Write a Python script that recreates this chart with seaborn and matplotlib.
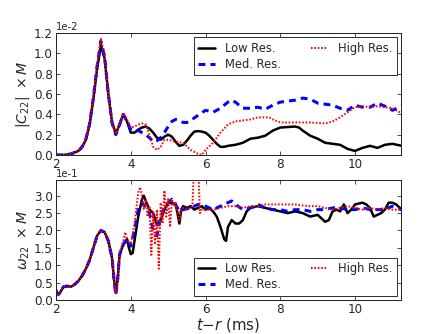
import numpy as np
import pandas as pd
import matplotlib
matplotlib.use("Agg")
import matplotlib.pyplot as plt
import seaborn as sns

# ---- top panel: |C22| x M  (values in units of 1e-2) ----
t_c_low = [2.0, 2.2, 2.4, 2.6, 2.7, 2.8, 2.9, 3.0, 3.1, 3.2, 3.3, 3.4, 3.5, 3.6, 3.7, 3.8,
           3.9, 4.0, 4.1, 4.2, 4.3, 4.4, 4.5, 4.6, 4.7, 4.8, 4.9, 5.0, 5.1, 5.2, 5.3, 5.4,
           5.5, 5.6, 5.7, 5.8, 5.9, 6.0, 6.1, 6.2, 6.3, 6.4, 6.5, 6.6, 6.8, 7.0, 7.2, 7.4,
           7.6, 7.8, 8.0, 8.2, 8.4, 8.5, 8.6, 8.8, 9.0, 9.2, 9.4, 9.6, 9.8, 10.0, 10.2,
           10.4, 10.6, 10.8, 11.0, 11.25]
c_low = [0.0, 0.0, 0.01, 0.04, 0.08, 0.15, 0.3, 0.55, 0.85, 1.08, 0.95, 0.6, 0.32, 0.21, 0.3,
         0.4, 0.33, 0.22, 0.22, 0.25, 0.27, 0.28, 0.26, 0.22, 0.17, 0.15, 0.18, 0.2, 0.18,
         0.13, 0.09, 0.1, 0.14, 0.19, 0.23, 0.235, 0.23, 0.22, 0.19, 0.15, 0.11, 0.08, 0.08,
         0.09, 0.1, 0.12, 0.16, 0.17, 0.19, 0.24, 0.27, 0.275, 0.28, 0.27, 0.24, 0.19, 0.16,
         0.12, 0.11, 0.1, 0.06, 0.04, 0.07, 0.09, 0.07, 0.1, 0.11, 0.09]

t_c_med = [2.0, 2.2, 2.4, 2.6, 2.7, 2.8, 2.9, 3.0, 3.1, 3.2, 3.3, 3.4, 3.5, 3.6, 3.7, 3.8,
           3.9, 4.0, 4.1, 4.2, 4.3, 4.4, 4.5, 4.6, 4.7, 4.8, 4.9, 5.0, 5.1, 5.2, 5.3, 5.4,
           5.5, 5.6, 5.8, 6.0, 6.2, 6.4, 6.6, 6.7, 6.8, 7.0, 7.2, 7.4, 7.6, 7.8, 8.0, 8.2,
           8.4, 8.6, 8.8, 9.0, 9.2, 9.4, 9.6, 9.8, 10.0, 10.2, 10.4, 10.6, 10.8, 11.0, 11.25]
c_med = [0.0, 0.0, 0.01, 0.04, 0.08, 0.16, 0.31, 0.57, 0.88, 1.12, 0.97, 0.6, 0.31, 0.2,
         0.3, 0.4, 0.33, 0.25, 0.23, 0.24, 0.22, 0.2, 0.17, 0.13, 0.14, 0.17, 0.22, 0.28,
         0.33, 0.35, 0.34, 0.32, 0.32, 0.34, 0.39, 0.44, 0.42, 0.46, 0.52, 0.54, 0.52, 0.46,
         0.46, 0.47, 0.45, 0.49, 0.52, 0.53, 0.54, 0.56, 0.55, 0.51, 0.5, 0.49, 0.46, 0.44,
         0.49, 0.47, 0.47, 0.51, 0.48, 0.44, 0.48]

t_c_high = [2.0, 2.2, 2.4, 2.6, 2.7, 2.8, 2.9, 3.0, 3.1, 3.2, 3.3, 3.4, 3.5, 3.6, 3.7, 3.8,
            3.9, 4.0, 4.1, 4.2, 4.3, 4.4, 4.5, 4.6, 4.7, 4.8, 4.9, 5.0, 5.2, 5.4, 5.6, 5.8,
            5.9, 6.0, 6.2, 6.4, 6.6, 6.8, 7.0, 7.2, 7.4, 7.6, 7.7, 7.8, 8.0, 8.4, 8.8, 9.2,
            9.4, 9.6, 9.8, 10.0, 10.2, 10.4, 10.6, 10.8, 11.0, 11.25]
c_high = [0.0, 0.0, 0.01, 0.04, 0.08, 0.16, 0.32, 0.58, 0.9, 1.15, 0.98, 0.6, 0.31, 0.21,
          0.31, 0.41, 0.35, 0.27, 0.28, 0.3, 0.31, 0.3, 0.2, 0.08, 0.05, 0.08, 0.15, 0.15,
          0.13, 0.12, 0.05, 0.01, 0.0, 0.05, 0.12, 0.22, 0.3, 0.33, 0.34, 0.35, 0.37, 0.37,
          0.37, 0.35, 0.32, 0.32, 0.32, 0.31, 0.33, 0.37, 0.42, 0.47, 0.48, 0.47, 0.48, 0.47,
          0.46, 0.41]

# ---- bottom panel: omega22 x M  (values in units of 1e-1) ----
t_w_low = [2.0, 2.05, 2.1, 2.2, 2.3, 2.4, 2.5, 2.6, 2.7, 2.8, 2.9, 3.0, 3.1, 3.2, 3.3, 3.4,
           3.5, 3.55, 3.6, 3.65, 3.7, 3.8, 3.9, 3.95, 4.0, 4.05, 4.1, 4.2, 4.3, 4.35, 4.4,
           4.5, 4.6, 4.7, 4.8, 4.9, 5.0, 5.1, 5.2, 5.25, 5.3, 5.35, 5.4, 5.5, 5.6, 5.7, 5.8,
           5.9, 6.0, 6.1, 6.2, 6.3, 6.4, 6.5, 6.55, 6.6, 6.7, 6.8, 6.9, 7.0, 7.1, 7.2, 7.4,
           7.6, 7.8, 8.0, 8.2, 8.4, 8.6, 8.8, 9.0, 9.2, 9.3, 9.4, 9.5, 9.6, 9.7, 9.8, 9.9,
           10.0, 10.2, 10.3, 10.4, 10.5, 10.6, 10.7, 10.8, 10.9, 11.0, 11.1, 11.25]
w_low = [0.3, 0.15, 0.2, 0.38, 0.4, 0.38, 0.45, 0.55, 0.7, 0.9, 1.15, 1.5, 1.85, 2.0, 1.95,
         1.7, 1.2, 0.6, 0.2, 0.6, 1.3, 1.6, 1.75, 1.5, 1.32, 1.35, 1.7, 2.4, 2.9, 3.0, 2.85,
         2.6, 2.5, 2.15, 2.3, 2.6, 2.8, 2.8, 2.75, 2.5, 2.2, 2.6, 2.7, 2.65, 2.7, 2.6, 2.65,
         2.7, 2.6, 2.65, 2.55, 2.4, 2.1, 1.75, 1.7, 2.1, 2.3, 2.2, 2.2, 2.3, 2.55, 2.65, 2.7,
         2.65, 2.6, 2.55, 2.5, 2.55, 2.5, 2.4, 2.45, 2.25, 2.3, 2.55, 2.6, 2.55, 2.75, 2.5,
         2.6, 2.75, 2.8, 2.75, 2.65, 2.4, 2.45, 2.5, 2.6, 2.8, 2.8, 2.75, 2.6]

t_w_med = [2.0, 2.05, 2.1, 2.2, 2.3, 2.4, 2.5, 2.6, 2.7, 2.8, 2.9, 3.0, 3.1, 3.2, 3.3, 3.4,
           3.5, 3.55, 3.6, 3.65, 3.7, 3.8, 3.9, 4.0, 4.1, 4.2, 4.3, 4.4, 4.5, 4.6, 4.7, 4.8,
           4.9, 5.0, 5.1, 5.2, 5.3, 5.4, 5.6, 5.8, 6.0, 6.2, 6.4, 6.6, 6.7, 6.8, 7.0, 7.2,
           7.4, 7.6, 7.8, 8.0, 8.2, 8.4, 8.6, 8.8, 9.0, 9.2, 9.4, 9.6, 9.8, 10.0, 10.2, 10.4,
           10.6, 10.8, 11.0, 11.25]
w_med = [0.25, 0.15, 0.2, 0.38, 0.4, 0.38, 0.45, 0.55, 0.7, 0.9, 1.15, 1.5, 1.85, 2.0, 1.95,
         1.7, 1.2, 0.6, 0.15, 0.6, 1.3, 1.6, 1.75, 1.55, 2.0, 2.6, 2.8, 2.65, 2.5, 2.0, 1.85,
         2.4, 2.65, 2.8, 2.9, 2.75, 2.55, 2.6, 2.65, 2.75, 2.7, 2.6, 2.7, 2.8, 2.85, 2.75, 2.6,
         2.65, 2.75, 2.65, 2.6, 2.6, 2.55, 2.6, 2.6, 2.55, 2.6, 2.6, 2.65, 2.65, 2.6, 2.6,
         2.65, 2.6, 2.6, 2.6, 2.7, 2.6]

t_w_high = [2.0, 2.05, 2.1, 2.2, 2.3, 2.4, 2.5, 2.6, 2.7, 2.8, 2.9, 3.0, 3.1, 3.2, 3.3, 3.4,
            3.5, 3.55, 3.6, 3.65, 3.7, 3.8, 3.85, 3.9, 4.0, 4.1, 4.2, 4.25, 4.3, 4.35, 4.4,
            4.45, 4.5, 4.55, 4.6, 4.65, 4.7, 4.75, 4.8, 4.85, 4.9, 4.95, 5.0, 5.05, 5.1, 5.15,
            5.2, 5.3, 5.35, 5.4, 5.5, 5.6, 5.65, 5.7, 5.8, 5.85, 5.9, 6.0, 6.2, 6.4, 6.6, 6.8,
            7.0, 7.2, 7.4, 7.6, 7.8, 8.0, 8.2, 8.4, 8.6, 8.8, 9.0, 9.2, 9.4, 9.6, 9.8, 10.0,
            10.2, 10.4, 10.6, 10.8, 11.0, 11.25]
w_high = [0.25, 0.15, 0.2, 0.38, 0.42, 0.38, 0.45, 0.55, 0.7, 0.9, 1.15, 1.5, 1.85, 2.02,
          1.97, 1.7, 1.2, 0.6, 0.2, 0.6, 1.35, 1.7, 1.95, 1.75, 1.6, 2.2, 3.1, 3.25, 3.0, 2.6,
          2.9, 2.4, 2.7, 1.3, 2.5, 1.6, 2.6, 0.9, 2.8, 2.2, 3.15, 2.4, 2.9, 2.1, 2.9, 2.7,
          2.8, 2.3, 2.6, 2.65, 2.6, 2.65, 2.7, 4.0, 4.0, 2.5, 2.6, 2.6, 2.6, 2.65, 2.7, 2.7,
          2.65, 2.7, 2.7, 2.75, 2.75, 2.75, 2.75, 2.75, 2.72, 2.7, 2.7, 2.65, 2.6, 2.65, 2.7,
          2.65, 2.6, 2.65, 2.6, 2.65, 2.6, 2.6]

series_labels = ["Low Res.", "Med. Res.", "High Res."]
series_colors = ["black", "blue", "red"]
series_styles = ["-", (0, (2.3, 1.7)), (0, (0.8, 0.9))]
series_widths = [2.5, 3.0, 2.0]

sns.set_style("ticks")
plt.rcParams["font.family"] = ["DejaVu Sans"]
plt.rcParams["axes.unicode_minus"] = False
plt.rcParams["xtick.direction"] = "in"
plt.rcParams["ytick.direction"] = "in"

fig = plt.figure(figsize=(446 / 72, 334 / 72), dpi=72)
ax_top = fig.add_axes([0.1256, 0.536, 0.7735, 0.365])
ax_bot = fig.add_axes([0.1256, 0.1018, 0.7735, 0.359])

top_data = [(t_c_low, c_low), (t_c_med, c_med), (t_c_high, c_high)]
bot_data = [(t_w_low, w_low), (t_w_med, w_med), (t_w_high, w_high)]

for ax, data, scale in [(ax_top, top_data, 1e-2), (ax_bot, bot_data, 1e-1)]:
    for (t, v), lab, col, ls, lw in zip(data, series_labels, series_colors,
                                         series_styles, series_widths):
        df = pd.DataFrame({"t": t, "v": np.array(v) * scale})
        sns.lineplot(data=df, x="t", y="v", ax=ax, color=col, linestyle=ls,
                     linewidth=lw, label=lab, sort=False)
    ax.set_xlim(2, 11.23)
    ax.set_xticks([2, 4, 6, 8, 10])
    ax.ticklabel_format(axis="y", style="sci", scilimits=(0, 0))
    ax.yaxis.get_offset_text().set_fontsize(10)
    ax.tick_params(top=True, right=True, labelsize=12, length=4, width=0.8, pad=3)
    ax.set_xlabel("")
    for sp in ax.spines.values():
        sp.set_linewidth(1.0)

ax_top.set_ylim(0, 0.012)
ax_top.set_yticks(np.arange(0, 0.0121, 0.002))
ax_top.set_ylabel(r"$|C_{22}|\ \times M$", fontsize=14, labelpad=2)

ax_bot.set_ylim(0, 0.345)
ax_bot.set_yticks(np.arange(0, 0.301, 0.05))
ax_bot.set_ylabel(r"$\omega_{22}\ \times M$", fontsize=14, labelpad=2)
ax_bot.set_xlabel(r"$t{-}r$ (ms)", fontsize=15, labelpad=0)

for ax, loc in [(ax_top, "upper right"), (ax_bot, "lower right")]:
    leg = ax.legend(loc=loc, ncol=2, fontsize=11.5, columnspacing=2.6,
                    frameon=True, fancybox=False, framealpha=1,
                    handlelength=1.5, handletextpad=0.85, borderaxespad=0.35,
                    borderpad=0.4, labelspacing=0.25)
    leg.get_frame().set_edgecolor("#333333")
    leg.get_frame().set_linewidth(1.0)

fig.savefig("out.png", dpi=72)
plt.close(fig)
